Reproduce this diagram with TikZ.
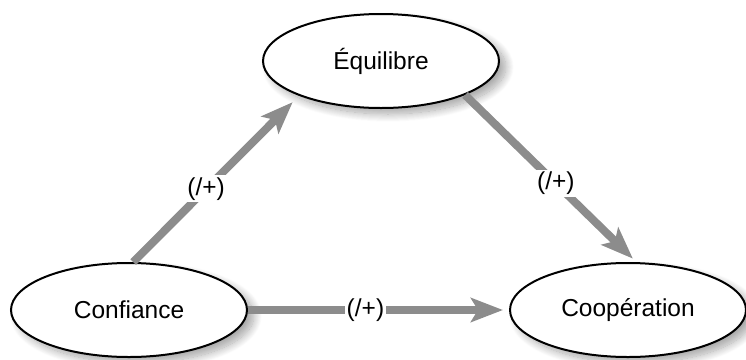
\documentclass[tikz,border=0pt]{standalone}
\usepackage{fontspec}
\setmainfont{Liberation Sans}
\usetikzlibrary{arrows.meta,shapes.geometric,shadows.blur}
\definecolor{arrowgray}{RGB}{140,140,140}
\tikzset{
  concept/.style={ellipse, draw=black, line width=2pt, fill=white, inner sep=0pt,
    minimum width=236pt, minimum height=94pt,
    font=\fontsize{24.5}{29}\selectfont,
    blur shadow={shadow xshift=7pt, shadow yshift=-6pt, shadow blur steps=16,
      shadow blur radius=8pt, shadow opacity=35}},
  link/.style={draw=arrowgray, line width=8pt,
    -{Stealth[length=32pt, width=24pt, inset=7pt]}},
  sign/.style={fill=white, inner sep=2pt, text=black, font=\fontsize{24.5}{29}\selectfont}
}
\begin{document}
\begin{tikzpicture}[x=1pt,y=-1pt]
\useasboundingbox (0,0) rectangle (746,359);
\node[concept] (equi) at (381,61) {Équilibre};
\node[concept] (conf) at (129,310) {Confiance};
\node[concept] (coop) at (628,310) {Coopération};
\draw[link, shorten >=9pt] (conf.85) -- node[sign, pos=0.44] (s1) {(/+)} (equi.203);
\draw[link, shorten >=5pt] (equi.338) -- node[sign, pos=0.53] (s2) {(/+)} (coop.80);
\draw[link, shorten >=6pt] (conf.0) -- node[sign, pos=0.45] (s3) {(/+)} (coop.180);
\end{tikzpicture}
\end{document}
